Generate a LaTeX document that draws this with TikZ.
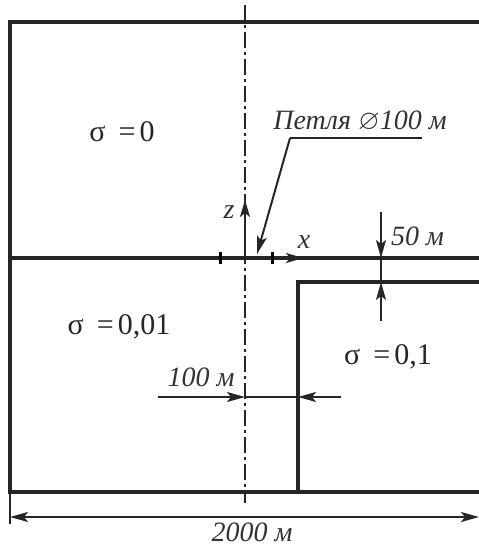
\documentclass[tikz,border=0pt]{standalone}
\usepackage{amssymb}
\usepackage{fontspec}
\setmainfont{Liberation Serif}
\usetikzlibrary{arrows.meta}
\newcommand{\sigeq}[1]{σ\hspace{13pt}=\hspace{4pt}#1}
\tikzset{
	border/.style={line width=4pt, color=black!85, line cap=rect},
	dimline/.style={line width=2pt, color=black!85},
	dimtip/.tip={Stealth[length=18pt,width=10pt,inset=4pt]},
	dimarrow/.style={dimline, -dimtip},
	axisarrow/.style={line width=2.4pt, color=black!85, -{Stealth[length=17pt,width=10pt,inset=4pt]}},
	centerline/.style={line width=2pt, color=black!85, dash pattern=on 16pt off 4pt on 3pt off 4pt},
	dimlabel/.style={font=\fontsize{28}{32}\selectfont\itshape, inner sep=0pt, color=black!80},
	zonelabel/.style={font=\fontsize{30}{34}\selectfont, inner sep=0pt, color=black!85}
}
\begin{document}
\begin{tikzpicture}[x=1pt, y=-1pt]
	\useasboundingbox (0,0) rectangle (479,546);
	% half-space and the conductive block
	\coordinate (tl) at (10,22);
	\coordinate (tr) at (479,22);
	\coordinate (bl) at (10,492);
	\coordinate (br) at (479,492);
	\coordinate (sl) at (10,258);
	\coordinate (sr) at (479,258);
	\coordinate (kb) at (298,492);
	\coordinate (kc) at (298,282);
	\coordinate (kr) at (479,282);
	\draw[border] (tr) -- (tl) -- (bl) -- (br);
	\draw[border] (sl) -- (sr);
	\draw[border] (kb) -- (kc) -- (kr);
	% symmetry axis
	\coordinate (ctop) at (245,5);
	\coordinate (cbot) at (245,503);
	\draw[centerline] (ctop) -- (cbot);
	% axes and loop
	\coordinate (o) at (245,258);
	\coordinate (zend) at (245,200);
	\coordinate (xend) at (303,258);
	\draw[axisarrow] (o) -- (zend);
	\draw[axisarrow] (o) -- (xend);
	\node[dimlabel] (zlab) at (229,212) {z};
	\node[dimlabel] (xlab) at (304,242) {x};
	\foreach \tx in {220,272}
		\draw[line width=3pt] (\tx,252) -- (\tx,264);
	% loop leader
	\coordinate (lptip) at (257,254);
	\coordinate (lpbend) at (290,138);
	\coordinate (lpend) at (422,138);
	\node[dimlabel] (loop) at (360,121) {Петля $\varnothing$100 м};
	\draw[dimline] (lpend) -- (lpbend);
	\draw[dimarrow] (lpbend) -- (lptip);
	% 50 m gap
	\coordinate (ga) at (381,212);
	\coordinate (gb) at (381,258);
	\coordinate (gc) at (381,282);
	\coordinate (gd) at (381,321);
	\draw[dimarrow] (ga) -- (gb);
	\draw[dimarrow] (gd) -- (gc);
	\draw[dimline] (gb) -- (gc);
	\node[dimlabel, anchor=west] (gap) at (391,236) {50 м};
	% 100 m offset
	\coordinate (oa) at (158,397);
	\coordinate (ob) at (245,397);
	\coordinate (oc) at (298,397);
	\coordinate (od) at (341,397);
	\draw[dimarrow] (oa) -- (ob);
	\draw[dimarrow] (od) -- (oc);
	\draw[dimline] (ob) -- (oc);
	\node[dimlabel] (offset) at (201,377) {100 м};
	% overall width
	\coordinate (wl) at (10,517);
	\coordinate (wr) at (479,517);
	\coordinate (el) at (10,524);
	\draw[dimline] (bl) -- (el);
	\draw[dimline, dimtip-dimtip] (wl) -- (wr);
	\node[dimlabel] (width) at (252,532) {2000 м};
	% conductivities
	\node[zonelabel] (air) at (122,132) {\sigeq{0}};
	\node[zonelabel] (host) at (119,327) {\sigeq{0,01}};
	\node[zonelabel] (body) at (388,357) {\sigeq{0,1}};
\end{tikzpicture}
\end{document}
